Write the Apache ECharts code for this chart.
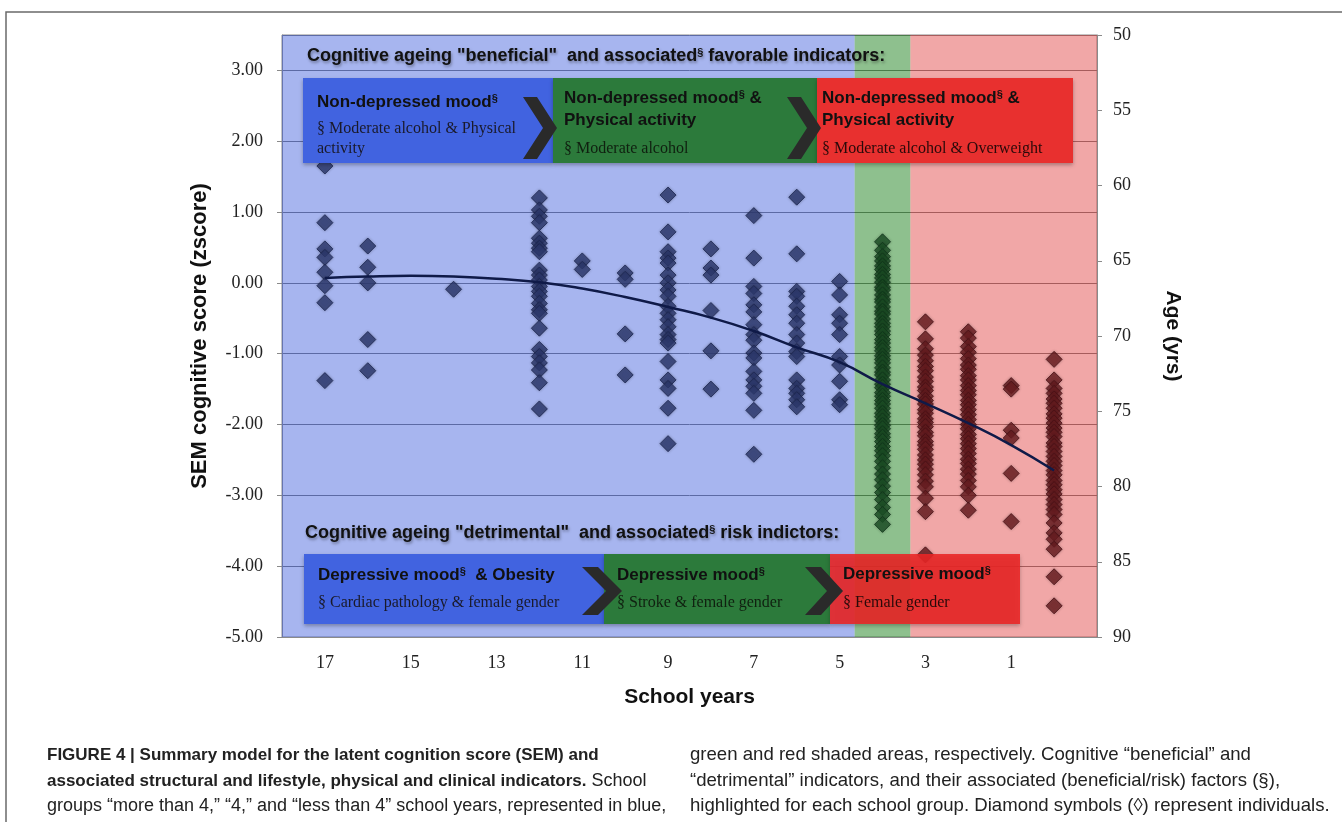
<!DOCTYPE html>
<html>
<head>
<meta charset="utf-8">
<script src="https://cdn.jsdelivr.net/npm/echarts@6/dist/echarts.min.js"></script>
<style>
html, body { margin: 0; padding: 0; background: #fff; }
#main { width: 1342px; height: 822px; }
</style>
</head>
<body>
<div id="main"></div>
<script>
// SEM cognitive score of each individual, one list per school-years column
var yrs17 = [1.65, 0.85, 0.48, 0.36, 0.15, -0.04, -0.28, -1.38];
var yrs16 = [0.52, 0.22, 0.00, -0.80, -1.24];
var yrs14 = [-0.09];
var yrs12 = [1.20, 1.03, 0.94, 0.85, 0.63, 0.56, 0.49, 0.44, 0.18, 0.11, 0.04, -0.05, -0.12, -0.19, -0.29, -0.38, -0.43, -0.64, -0.94, -1.04, -1.13, -1.23, -1.41, -1.78];
var yrs11 = [0.31, 0.19];
var yrs10 = [0.14, 0.05, -0.72, -1.30];
var yrs9 = [1.24, 0.72, 0.44, 0.35, 0.28, 0.11, 0.00, -0.10, -0.19, -0.33, -0.43, -0.52, -0.62, -0.73, -0.80, -0.85, -1.11, -1.37, -1.49, -1.77, -2.27];
var yrs8 = [0.48, 0.21, 0.11, -0.39, -0.96, -1.50];
var yrs7 = [0.95, 0.35, -0.05, -0.15, -0.31, -0.41, -0.59, -0.73, -0.81, -0.99, -1.06, -1.25, -1.37, -1.46, -1.56, -1.80, -2.42];
var yrs6 = [1.21, 0.41, -0.12, -0.19, -0.33, -0.45, -0.57, -0.73, -0.85, -0.97, -1.04, -1.37, -1.49, -1.56, -1.65, -1.75];
var yrs5 = [0.02, -0.17, -0.45, -0.57, -0.73, -1.04, -1.16, -1.39, -1.65, -1.72];
var yrs4 = [0.58, 0.46, 0.37, 0.31, 0.24, 0.19, 0.12, 0.07, 0.01, -0.06, -0.10, -0.17, -0.23, -0.27, -0.34, -0.40, -0.44, -0.51, -0.57, -0.62, -0.68, -0.73, -0.80, -0.85, -0.91, -0.96, -1.03, -1.08, -1.13, -1.20, -1.26, -1.30, -1.37, -1.43, -1.48, -1.55, -1.60, -1.66, -1.71, -1.77, -1.84, -1.89, -1.95, -2.01, -2.06, -2.13, -2.18, -2.24, -2.31, -2.37, -2.44, -2.52, -2.61, -2.70, -2.78, -2.87, -2.96, -3.06, -3.17, -3.27, -3.41];
var yrs3 = [-0.55, -0.79, -0.93, -1.02, -1.10, -1.18, -1.24, -1.33, -1.39, -1.47, -1.52, -1.60, -1.66, -1.71, -1.79, -1.84, -1.92, -1.97, -2.03, -2.11, -2.16, -2.24, -2.29, -2.35, -2.43, -2.50, -2.56, -2.63, -2.71, -2.80, -2.88, -3.04, -3.23, -3.84];
var yrs2 = [-0.69, -0.78, -0.90, -0.98, -1.07, -1.16, -1.22, -1.31, -1.37, -1.45, -1.52, -1.58, -1.66, -1.72, -1.79, -1.86, -1.93, -2.00, -2.06, -2.14, -2.20, -2.27, -2.34, -2.41, -2.49, -2.55, -2.63, -2.70, -2.79, -2.88, -3.00, -3.21];
var yrs1 = [-1.45, -1.50, -2.08, -2.19, -2.69, -3.37];
var yrs0 = [-1.08, -1.37, -1.49, -1.56, -1.64, -1.70, -1.77, -1.85, -1.91, -1.98, -2.05, -2.11, -2.17, -2.26, -2.31, -2.38, -2.45, -2.52, -2.58, -2.65, -2.71, -2.79, -2.85, -2.92, -2.98, -3.06, -3.13, -3.20, -3.27, -3.39, -3.53, -3.62, -3.76, -4.15, -4.56];

var schoolYears = [17, 16, 14, 12, 11, 10, 9, 8, 7, 6, 5, 4, 3, 2, 1, 0];
var columns = [yrs17, yrs16, yrs14, yrs12, yrs11, yrs10, yrs9, yrs8, yrs7, yrs6, yrs5, yrs4, yrs3, yrs2, yrs1, yrs0];

// fitted curve
var trendYears = [17, 16, 15, 14, 13, 12, 11, 10, 9, 8, 7, 6, 5, 4, 3, 2, 1, 0];
var trendScores = [0.07, 0.09, 0.10, 0.09, 0.06, 0.01, -0.08, -0.20, -0.34, -0.49, -0.68, -0.91, -1.12, -1.43, -1.70, -1.98, -2.29, -2.65];

var xLabels = [17, 15, 13, 11, 9, 7, 5, 3, 1];

var SANS = '"Liberation Sans", Arial, sans-serif';
var SERIF = '"Liberation Serif", "Times New Roman", serif';

var blueData = [], greenData = [], redData = [];
schoolYears.forEach(function (yr, i) {
  var target = yr > 4 ? blueData : (yr == 4 ? greenData : redData);
  columns[i].forEach(function (v) { target.push([yr, v]); });
});
var trendData = trendYears.map(function (yr, i) { return [yr, trendScores[i]]; });

function diamonds(name, data, color, edge) {
  return {
    name: name, type: 'scatter', data: data, symbol: 'diamond', symbolSize: 16, z: 3,
    itemStyle: { color: color, borderColor: edge, borderWidth: 1, shadowColor: 'rgba(0,0,0,0.35)', shadowBlur: 3 }
  };
}

var sup = { fontSize: 11, fontWeight: 'bold', fontFamily: SANS, verticalAlign: 'top', fill: '#111' };

function text(x, y, str, size, weight, family, color, more) {
  var st = { x: 0, y: 0, text: str, fontSize: size, fontWeight: weight, fontFamily: family, fill: color,
    align: 'left', verticalAlign: 'middle', rich: { s: sup,
      b: { fontSize: 17, fontWeight: 'bold', fontFamily: family, fill: color } } };
  if (more) for (var k in more) st[k] = more[k];
  return { type: 'text', x: x, y: y, z: 60, silent: true, style: st };
}
function box(x, y, w, h, color) {
  return { type: 'rect', z: 50, silent: true, shape: { x: x, y: y, width: w, height: h },
    style: { fill: color, shadowBlur: 4, shadowColor: 'rgba(0,0,0,0.3)', shadowOffsetY: 2 } };
}
function chevron(x, top, w, h, depth) {
  var mid = top + h / 2;
  return { type: 'polygon', z: 55, silent: true,
    shape: { points: [[x, top], [x + w, top], [x + w + depth, mid], [x + w, top + h], [x, top + h], [x + depth, mid]] },
    style: { fill: '#2a2a2a' } };
}

var shadowText = { textShadowColor: 'rgba(0,0,0,0.35)', textShadowBlur: 3, textShadowOffsetX: 1, textShadowOffsetY: 2 };

var graphics = [
  { type: 'rect', z: 1, silent: true, shape: { x: 6, y: 12, width: 1400, height: 900 },
    style: { fill: null, stroke: '#6a6a6a', lineWidth: 1.5 } },

  text(307, 56, 'Cognitive ageing "beneficial"  and associated{s|§} favorable indicators:', 18, 'bold', SANS, '#111', shadowText),
  box(303, 78, 250, 85, '#4163e0'),
  box(553, 78, 264, 85, '#2c7a3b'),
  box(817, 78, 256, 85, '#e8302f'),
  chevron(523, 97, 14, 62, 20),
  chevron(787, 97, 14, 62, 20),
  text(317, 102, 'Non-depressed mood{s|§}', 17, 'bold', SANS, '#111'),
  text(317, 129, '§ Moderate alcohol & Physical', 16, 'normal', SERIF, '#1a1a2a'),
  text(317, 149, 'activity', 16, 'normal', SERIF, '#1a1a2a'),
  text(564, 98, 'Non-depressed mood{s|§} &', 17, 'bold', SANS, '#111'),
  text(564, 120, 'Physical activity', 17, 'bold', SANS, '#111'),
  text(564, 149, '§ Moderate alcohol', 16, 'normal', SERIF, '#102010'),
  text(822, 98, 'Non-depressed mood{s|§} &', 17, 'bold', SANS, '#111'),
  text(822, 120, 'Physical activity', 17, 'bold', SANS, '#111'),
  text(822, 149, '§ Moderate alcohol & Overweight', 16, 'normal', SERIF, '#2a0a0a'),

  text(305, 533, 'Cognitive ageing "detrimental"  and associated{s|§} risk indictors:', 18, 'bold', SANS, '#111', shadowText),
  box(304, 554, 300, 70, '#4163e0'),
  box(604, 554, 226, 70, '#2c7a3b'),
  box(830, 554, 190, 70, 'rgba(236,38,38,0.88)'),
  chevron(582, 567, 16, 48, 24),
  chevron(805, 567, 16, 48, 22),
  text(318, 575, 'Depressive mood{s|§}  & Obesity', 17, 'bold', SANS, '#111'),
  text(318, 603, '§ Cardiac pathology & female gender', 16, 'normal', SERIF, '#1a1a2a'),
  text(617, 575, 'Depressive mood{s|§}', 17, 'bold', SANS, '#111'),
  text(617, 603, '§ Stroke & female gender', 16, 'normal', SERIF, '#102010'),
  text(843, 574, 'Depressive mood{s|§}', 17, 'bold', SANS, '#111'),
  text(843, 603, '§ Female gender', 16, 'normal', SERIF, '#2a0a0a'),

  text(47, 755, 'FIGURE 4 | Summary model for the latent cognition score (SEM) and', 17, 'bold', SANS, '#222'),
  text(47, 781, '{b|associated structural and lifestyle, physical and clinical indicators.} School', 18, 'normal', SANS, '#222'),
  text(47, 806, 'groups \u201cmore than 4,\u201d \u201c4,\u201d and \u201cless than 4\u201d school years, represented in blue,', 18, 'normal', SANS, '#222'),
  text(690, 755, 'green and red shaded areas, respectively. Cognitive \u201cbeneficial\u201d and', 18.6, 'normal', SANS, '#222'),
  text(690, 781, '\u201cdetrimental\u201d indicators, and their associated (beneficial/risk) factors (\u00a7),', 18.6, 'normal', SANS, '#222'),
  text(690, 806, 'highlighted for each school group. Diamond symbols (\u25ca) represent individuals.', 18.6, 'normal', SANS, '#222')
];

var chart = echarts.init(document.getElementById('main'));
var option = {
  animation: false,
  grid: { left: 282, right: 245, top: 35, bottom: 185, show: true, borderColor: '#8a8a8a', borderWidth: 1 },
  xAxis: {
    type: 'value', min: -1, max: 18, interval: 1, inverse: true,
    name: 'School years', nameLocation: 'middle', nameGap: 50,
    nameTextStyle: { fontFamily: SANS, fontWeight: 'bold', fontSize: 21, color: '#111' },
    axisLine: { show: true, onZero: false, lineStyle: { color: '#8a8a8a' } },
    axisTick: { show: false },
    splitLine: { show: false },
    axisLabel: {
      margin: 17, fontFamily: SERIF, fontSize: 18, color: '#222',
      formatter: function (v) { return xLabels.indexOf(v) >= 0 ? String(v) : ''; }
    }
  },
  yAxis: [
    {
      type: 'value', min: -5, max: 3.5, interval: 1, position: 'left',
      name: 'SEM cognitive score (zscore)', nameLocation: 'middle', nameGap: 71,
      nameTextStyle: { fontFamily: SANS, fontWeight: 'bold', fontSize: 22, color: '#111' },
      axisLine: { show: true, onZero: false, lineStyle: { color: '#8a8a8a' } },
      axisTick: { show: true, length: 5, lineStyle: { color: '#8a8a8a' } },
      splitLine: { show: true, lineStyle: { color: '#777', width: 1 } },
      axisLabel: {
        margin: 19, fontFamily: SERIF, fontSize: 18, color: '#222', showMaxLabel: false,
        formatter: function (v) { return v.toFixed(2); }
      }
    },
    {
      type: 'value', min: 50, max: 90, interval: 5, inverse: true, position: 'right',
      name: 'Age (yrs)', nameLocation: 'middle', nameGap: 65, nameRotate: -90,
      nameTextStyle: { fontFamily: SANS, fontWeight: 'bold', fontSize: 21, color: '#111' },
      axisLine: { show: true, onZero: false, lineStyle: { color: '#8a8a8a' } },
      axisTick: { show: true, length: 5, lineStyle: { color: '#8a8a8a' } },
      splitLine: { show: false },
      axisLabel: { margin: 16, fontFamily: SERIF, fontSize: 18, color: '#222' }
    }
  ],
  graphic: graphics,
  series: [
    {
      name: 'groups', type: 'scatter', data: [], z: 1, silent: true,
      markArea: {
        silent: true,
        data: [
          [{ xAxis: 18, yAxis: 3.5, itemStyle: { color: 'rgba(60,90,220,0.45)' } }, { xAxis: 4.65, yAxis: -5 }],
          [{ xAxis: 4.65, yAxis: 3.5, itemStyle: { color: 'rgba(30,130,30,0.5)' } }, { xAxis: 3.35, yAxis: -5 }],
          [{ xAxis: 3.35, yAxis: 3.5, itemStyle: { color: 'rgba(225,60,60,0.45)' } }, { xAxis: -1, yAxis: -5 }]
        ]
      }
    },
    diamonds('more than 4', blueData, '#2e3b70', '#1c2550'),
    diamonds('4', greenData, '#1e5228', '#10361a'),
    diamonds('less than 4', redData, '#6b1e22', '#4a1015'),
    {
      name: 'trend', type: 'line', data: trendData, smooth: true, showSymbol: false, z: 4,
      lineStyle: { color: '#0f1a48', width: 2.5 }
    }
  ]
};
chart.setOption(option);
</script>
</body>
</html>
